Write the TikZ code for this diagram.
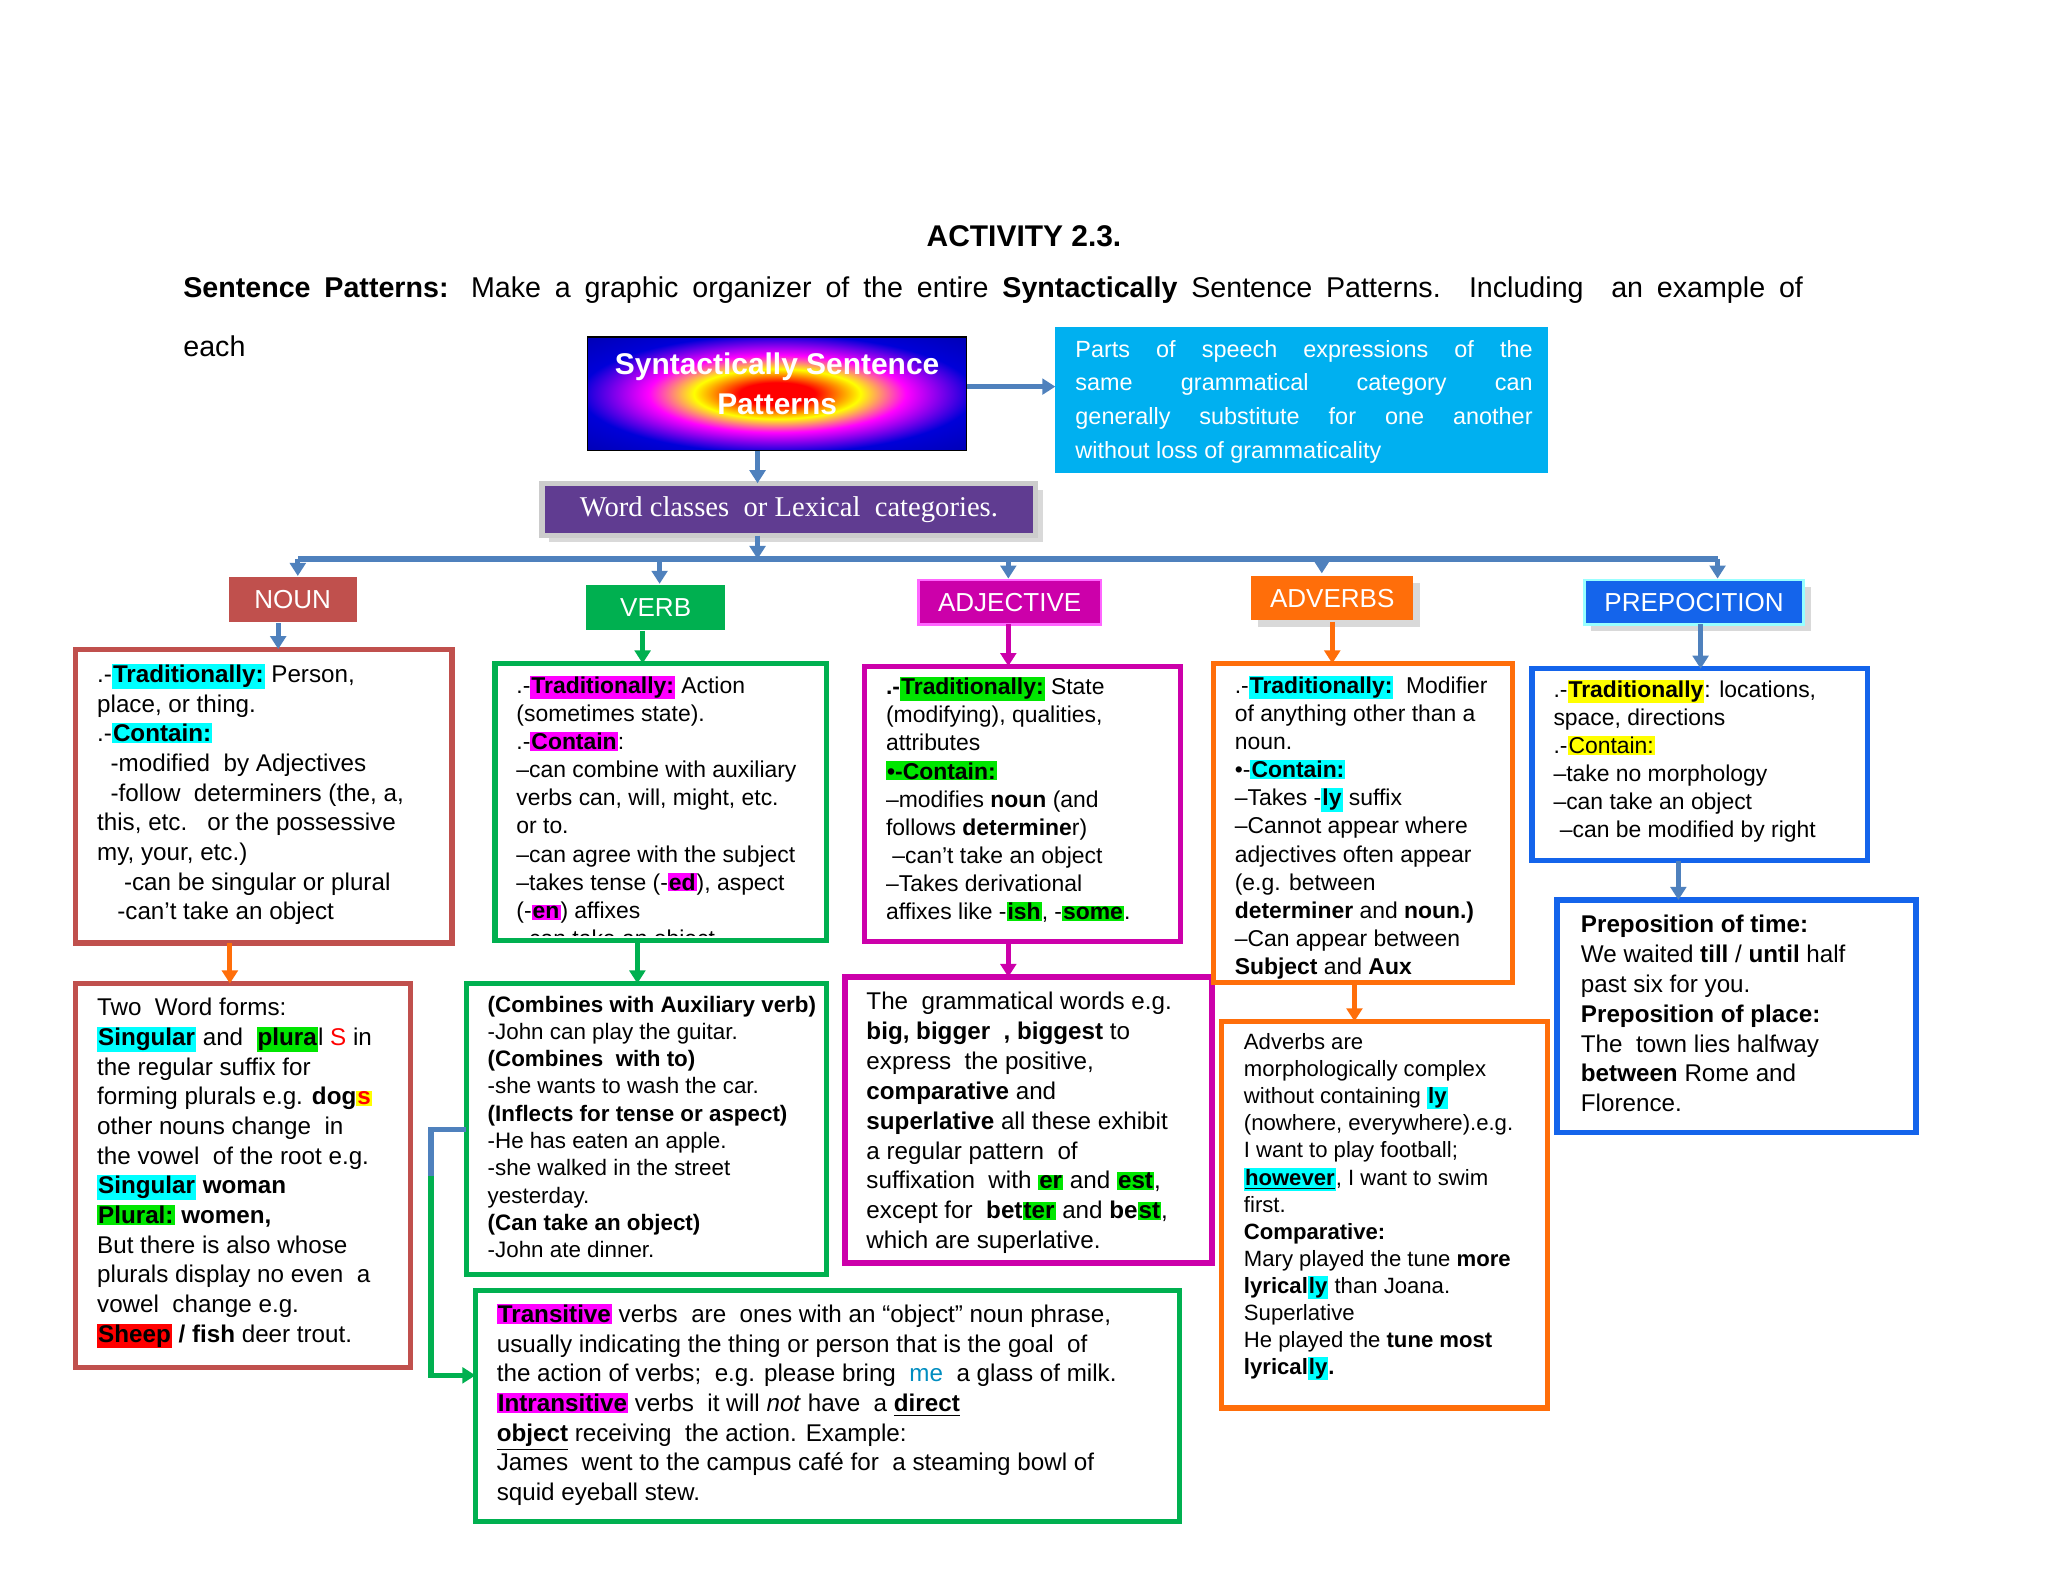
\documentclass[tikz,border=0pt]{standalone}
\usepackage{fontspec}
\setmainfont{Liberation Sans}
\newfontfamily\serifont{Liberation Serif}
\usetikzlibrary{arrows.meta,shadows}
\definecolor{nred}{RGB}{192,80,77}
\definecolor{ngreen}{RGB}{0,176,80}
\definecolor{nmag}{RGB}{204,0,170}
\definecolor{norange}{RGB}{255,110,10}
\definecolor{nblue}{RGB}{20,100,235}
\definecolor{steel}{RGB}{79,129,189}
\definecolor{skyb}{RGB}{0,176,240}
\definecolor{hcy}{RGB}{0,255,255}
\definecolor{hgr}{RGB}{0,230,0}
\definecolor{hmg}{RGB}{255,0,255}
\definecolor{hye}{RGB}{255,255,0}
\definecolor{hrd}{RGB}{255,0,0}
\definecolor{purp}{RGB}{96,60,145}
\newcommand\hl[2]{{\setlength{\fboxsep}{0.4pt}\colorbox{#1}{#2}}}
\newcommand\sline[2]{\makebox[#1][s]{#2}}
\pgfdeclareradialshading{rainbow}{\pgfpoint{0bp}{0bp}}{color(0bp)=(red);color(5bp)=(red);color(11bp)=(yellow);color(17bp)=(magenta);color(26bp)=(blue!85!black);color(50bp)=(blue!50!black)}
\tikzset{
  x=0.5bp,y=-0.5bp,
  arr/.style={-{Triangle[length=5bp,width=6bp]},line width=2bp},
  cat/.style={minimum height=17bp,text=white,font=\fontsize{10}{12}\selectfont,inner sep=0pt},
  dbox/.style={line width=2bp},
  txt/.style={anchor=north west,align=left,inner sep=0pt,font=\fontsize{8.8}{10.8}\selectfont},
}
\begin{document}
\begin{tikzpicture}
\useasboundingbox (0,0) rectangle (1568,1211);
\node[font=\bfseries\fontsize{11.5}{13}\selectfont] (title) at (784,181) {ACTIVITY 2.3.};
\node[anchor=west,inner sep=0pt,font=\fontsize{11}{13}\selectfont] (instr) at (140,222) {\sline{620bp}{\textbf{Sentence Patterns:} Make a graphic organizer of the entire \textbf{Syntactically} Sentence Patterns. Including\ \ an example of}};
\node[anchor=west,inner sep=0pt,font=\fontsize{11}{13}\selectfont] (each) at (140,265) {each};
% main box
\path[shading=rainbow,draw=black,line width=0.5bp] (450,258) rectangle (740,345);
\node[text=white,align=center,font=\bfseries\fontsize{11.5}{15.5}\selectfont] (main) at (595,294) {Syntactically Sentence\\Patterns};
\coordinate (mainR) at (740,296); \coordinate (mainB) at (580,345);
% blue box
\fill[skyb] (808,250) rectangle (1185,362);
\node[anchor=north west,text=white,align=left,inner sep=0pt,font=\fontsize{9}{13}\selectfont] (def) at (823,260) {\sline{175bp}{Parts of speech expressions of the}\\\sline{175bp}{same grammatical category can}\\\sline{175bp}{generally substitute for one another}\\without loss of grammaticality};
\coordinate (defL) at (808,296);
\draw[arr,steel] (mainR) -- (defL);
% word classes
\node[draw=gray!40,line width=2bp,fill=purp,minimum width=189bp,minimum height=20bp,text=white,font=\serifont\fontsize{11}{13}\selectfont,drop shadow={opacity=0.3}] (wc) at (604,390) {Word classes\ \ or Lexical\ \ categories.};
\draw[arr,steel] (mainB) -- (580,370);
\draw[steel,line width=2.5bp] (228,428) -- (1315,428);
\draw[arr,steel] (580,410) -- (580,428);
% categories
\node[cat,fill=nred,minimum width=49bp] (noun) at (224,459) {NOUN};
\node[cat,fill=ngreen,minimum width=53bp] (verb) at (502,465) {VERB};
\node[cat,fill=nmag,minimum width=70bp,draw=hmg!60,line width=1bp] (adj) at (773,461) {ADJECTIVE};
\node[cat,fill=norange,minimum width=62bp,drop shadow={opacity=0.3}] (adv) at (1020,458) {ADVERBS};
\node[cat,fill=nblue,minimum width=84bp,draw=hcy!40,line width=1bp,drop shadow={opacity=0.3}] (prep) at (1297,461) {PREPOCITION};
\draw[arr,steel] (228,428) -- (228,441);
\draw[arr,steel] (505,428) -- (505,447);
\draw[arr,steel] (772,428) -- (772,443);
\draw[arr,steel] (1012,428) -- (1012,439);
\draw[arr,steel] (1315,428) -- (1315,443);
% boxes
\draw[dbox,nred] (58,497) rectangle (346,722) coordinate (n1);
\draw[dbox,nred] (58,753) rectangle (314,1047) coordinate (n2);
\draw[dbox,ngreen] (379,508) rectangle (633,720) coordinate (v1);
\draw[dbox,ngreen] (357,753) rectangle (633,976) coordinate (v2);
\draw[dbox,ngreen] (364,988) rectangle (903,1165) coordinate (v3);
\draw[dbox,nmag] (662,510) rectangle (904,721) coordinate (a1);
\draw[dbox,nmag] (647,748) rectangle (928,967) coordinate (a2);
\draw[dbox,norange] (929,508) rectangle (1158,752) coordinate (d1);
\draw[dbox,norange] (935,782) rectangle (1185,1078) coordinate (d2);
\draw[dbox,nblue] (1173,512) rectangle (1430,659) coordinate (p1);
\draw[dbox,nblue] (1192,689) rectangle (1467,867) coordinate (p2);
% arrows
\draw[arr,steel] (213,477) -- (213,497);
\draw[arr,norange] (176,722) -- (176,753);
\draw[arr,ngreen] (492,483) -- (492,508);
\draw[arr,ngreen] (488,720) -- (488,753);
\draw[line width=2bp,steel] (357,865) -- (330,865) -- (330,900);
\draw[arr,ngreen] (330,900) -- (330,1053) -- (364,1053);
\draw[arr,nmag] (772,478) -- (772,510);
\draw[arr,nmag] (772,721) -- (772,748);
\draw[arr,norange] (1020,476) -- (1020,508);
\draw[arr,norange] (1037,752) -- (1037,782);
\draw[arr,steel] (1302,478) -- (1302,512);
\draw[arr,steel] (1285,659) -- (1285,689);
% texts
\node[txt,font=\fontsize{9.3}{11.4}\selectfont] (tn1) at (74,508) {.-\hl{hcy}{\textbf{Traditionally:}} Person,\\place, or thing.\\.-\hl{hcy}{\textbf{Contain:}}\\\ \ -modified\ \ by Adjectives\\\ \ -follow\ \ determiners (the, a,\\this, etc.\ \ \ or the possessive\\my, your, etc.)\\\ \ \ \ -can be singular or plural\\\ \ \ -can't take an object};
\node[txt,font=\fontsize{9.3}{11.4}\selectfont] (tn2) at (74,764) {Two\ \ Word forms:\\\hl{hcy}{\textbf{Singular}} and\ \ \hl{hgr}{\textbf{plura}}l {\color{red}S} in\\the regular suffix for\\forming plurals e.g. \textbf{dog\hl{hye}{\color{red}s}}\\other nouns change\ \ in\\the vowel\ \ of the root e.g.\\\hl{hcy}{\textbf{Singular}} \textbf{woman}\\\hl{hgr}{\textbf{Plural:}} \textbf{women,}\\But there is also whose\\plurals display no even\ \ a\\vowel\ \ change e.g.\\\hl{hrd}{\textbf{Sheep}} \textbf{/ fish} deer trout.};
\begin{scope}
\clip (379,508) rectangle (633,716);
\node[txt] (tv1) at (395,517) {.-\hl{hmg}{\textbf{Traditionally:}} Action\\(sometimes state).\\.-\hl{hmg}{\textbf{Contain}}:\\--can combine with auxiliary\\verbs can, will, might, etc.\\or to.\\--can agree with the subject\\--takes tense (-\hl{hmg}{\textbf{ed}}), aspect\\(-\hl{hmg}{\textbf{en}}) affixes\\--can take an object};
\end{scope}
\node[txt,font=\fontsize{8.6}{10.5}\selectfont] (tv2) at (373,762) {\textbf{(Combines with Auxiliary verb)}\\-John can play the guitar.\\\textbf{(Combines\ \ with to)}\\-she wants to wash the car.\\\textbf{(Inflects for tense or aspect)}\\-He has eaten an apple.\\-she walked in the street\\yesterday.\\\textbf{(Can take an object)}\\-John ate dinner.};
\node[txt,font=\fontsize{9.3}{11.4}\selectfont] (tv3) at (380,998) {\hl{hmg}{\textbf{Transitive}} verbs\ \ are\ \ ones with an ``object'' noun phrase,\\usually indicating the thing or person that is the goal\ \ of\\the action of verbs;\ \ e.g. please bring\ \ {\color{skyb!80!black}me}\ \ a glass of milk.\\\hl{hmg}{\textbf{Intransitive}} verbs\ \ it will \textit{not} have\ \ a \underline{\textbf{direct}}\\\underline{\textbf{object}} receiving\ \ the action. Example:\\James\ \ went to the campus café for\ \ a steaming bowl of\\squid eyeball stew.};
\node[txt] (ta1) at (678,518) {\textbf{.-\hl{hgr}{Traditionally:}} State\\(modifying), qualities,\\attributes\\\hl{hgr}{\textbf{•-Contain:}}\\--modifies \textbf{noun} (and\\follows \textbf{determine}r)\\\ --can't take an object\\--Takes derivational\\affixes like -\hl{hgr}{\textbf{ish}}, -\hl{hgr}{\textbf{some}}.};
\node[txt,font=\fontsize{9.3}{11.5}\selectfont] (ta2) at (663,759) {The\ \ grammatical words e.g.\\\textbf{big, bigger\ \ , biggest} to\\express\ \ the positive,\\\textbf{comparative} and\\\textbf{superlative} all these exhibit\\a regular pattern\ \ of\\suffixation\ \ with \hl{hgr}{\textbf{er}} and \hl{hgr}{\textbf{est}},\\except for\ \ \textbf{bet\hl{hgr}{ter}} and \textbf{be\hl{hgr}{st}},\\which are superlative.};
\node[txt] (td1) at (945,517) {.-\hl{hcy}{\textbf{Traditionally:}}\ \ Modifier\\of anything other than a\\noun.\\•-\hl{hcy}{\textbf{Contain:}}\\--Takes -\hl{hcy}{\textbf{ly}} suffix\\--Cannot appear where\\adjectives often appear\\(e.g. between\\\textbf{determiner} and \textbf{noun.)}\\--Can appear between\\\textbf{Subject} and \textbf{Aux}};
\node[txt,font=\fontsize{8.5}{10.4}\selectfont] (td2) at (952,791) {Adverbs are\\morphologically complex\\without containing \hl{hcy}{\textbf{ly}}\\(nowhere, everywhere).e.g.\\I want to play football;\\\hl{hcy}{\underline{\textbf{however}}}, I want to swim\\first.\\\textbf{Comparative:}\\Mary played the tune \textbf{more}\\\textbf{lyrical\hl{hcy}{ly}} than Joana.\\Superlative\\He played the \textbf{tune most}\\\textbf{lyrical\hl{hcy}{ly}.}};
\node[txt] (tp1) at (1189,520) {.-\hl{hye}{\textbf{Traditionally}}: locations,\\space, directions\\.-\hl{hye}{Contain:}\\--take no morphology\\--can take an object\\\ --can be modified by right};
\node[txt,font=\fontsize{9.3}{11.5}\selectfont] (tp2) at (1210,700) {\textbf{Preposition of time:}\\We waited \textbf{till} / \textbf{until} half\\past six for you.\\\textbf{Preposition of place:}\\The\ \ town lies halfway\\\textbf{between} Rome and\\Florence.};
\end{tikzpicture}
\end{document}
